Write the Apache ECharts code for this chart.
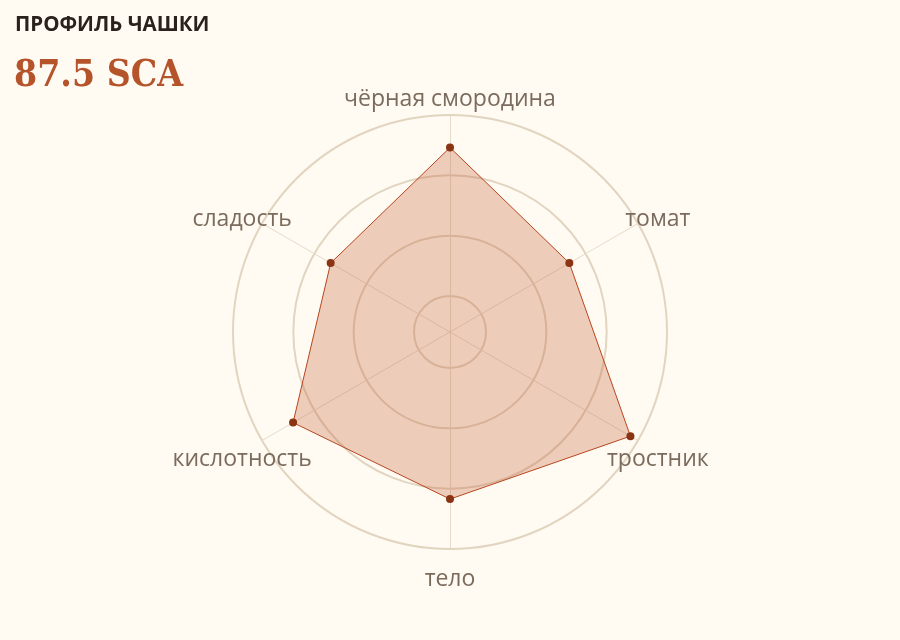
<!DOCTYPE html>
<html>
<head>
<meta charset="utf-8">
<script src="https://cdn.jsdelivr.net/npm/echarts@6/dist/echarts.min.js"></script>
<style>
html,body{margin:0;padding:0;background:#fffaf2;}
#chart{width:900px;height:640px;}
</style>
</head>
<body>
<div id="chart"></div>
<script>
// Data (clockwise from top)
const categories = ['чёрная смородина', 'томат', 'тростник', 'тело', 'кислотность', 'сладость'];
const values = [8.5, 6.35, 9.6, 7.7, 8.35, 6.35];
const axisMax = 10;
const titleText = 'ПРОФИЛЬ ЧАШКИ';
const scoreText = '87.5 SCA';

// ECharts radar runs counter-clockwise; reorder to keep clockwise reading
const ccw = arr => [arr[0]].concat(arr.slice(1).reverse());
const indicators = ccw(categories).map(n => ({ name: n, max: axisMax, min: 0 }));
const seriesValues = ccw(values);

const chart = echarts.init(document.getElementById('chart'));
chart.setOption({
  backgroundColor: '#fffaf2',
  animation: false,
  title: [
    { text: titleText, left: 15, top: 15, padding: 0,
      textStyle: { fontFamily: 'Open Sans', fontWeight: 'bold', fontSize: 20.5, color: '#2a201c' } },
    { text: scoreText, left: 14, top: 58, padding: 0,
      textStyle: { fontFamily: '"DejaVu Serif Condensed", "DejaVu Serif"', fontWeight: 'bold', fontSize: 37, color: '#b5532b' } }
  ],
  radar: [
    {
      // rings
      center: ['50%', 332],
      radius: [36, 217],
      shape: 'circle',
      splitNumber: 3,
      startAngle: 90,
      indicator: indicators,
      axisName: { show: false },
      axisLine: { show: false },
      axisTick: { show: false },
      axisLabel: { show: false },
      splitArea: { show: false },
      splitLine: { lineStyle: { color: '#e2d5c0', width: 2 } }
    },
    {
      center: ['50%', 332],
      radius: 217,
      shape: 'circle',
      startAngle: 90,
      indicator: indicators,
      nameGap: 23,
      axisName: { color: '#7b6b5c', fontSize: 23, fontFamily: 'Open Sans', align: 'center', verticalAlign: 'top', lineHeight: 14 },
      axisLine: { lineStyle: { color: '#e7dccb', width: 1 } },
      axisTick: { show: false },
      axisLabel: { show: false },
      splitArea: { show: false },
      splitLine: { show: false }
    }
  ],
  series: [{
    type: 'radar',
    radarIndex: 1,
    symbol: 'circle',
    symbolSize: 8,
    itemStyle: { color: '#8a3414' },
    lineStyle: { color: '#b8441c', width: 1 },
    areaStyle: { color: '#c0572b', opacity: 0.28 },
    data: [{ value: seriesValues, name: titleText }]
  }]
});
</script>
</body>
</html>
